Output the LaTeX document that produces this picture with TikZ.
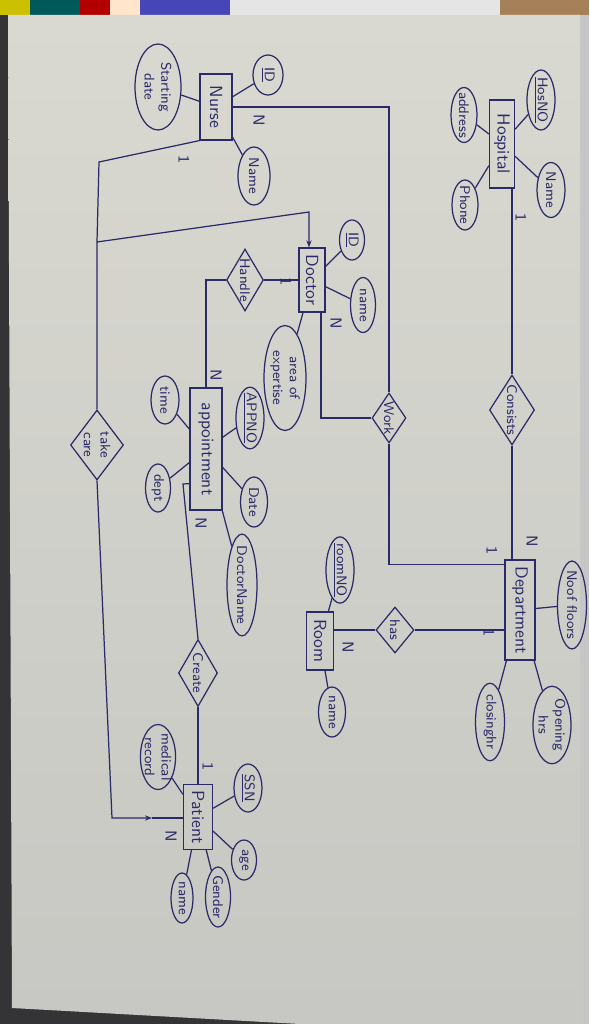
\documentclass[tikz,border=0pt]{standalone}
\usepackage{xcolor}
\usepackage{tikz}
\usetikzlibrary{shapes.geometric,arrows.meta}

\definecolor{ink}{RGB}{42,42,104}
\definecolor{papertop}{RGB}{217,217,209}
\definecolor{paperbot}{RGB}{199,199,195}
\definecolor{bgdark}{RGB}{52,52,55}

\tikzset{
  entity/.style={draw, rectangle, rotate=-90, inner sep=1pt, font=\sffamily},
  attr/.style={draw, ellipse, rotate=-90, inner xsep=-2pt, inner ysep=-0.5pt, align=center, font=\sffamily\footnotesize},
  rel/.style={draw, diamond, aspect=1.5, rotate=-90, inner xsep=-1pt, inner ysep=0pt, align=center, font=\sffamily\footnotesize},
  card/.style={rotate=-90, inner sep=0pt, font=\sffamily\small}
}

\begin{document}
\begin{tikzpicture}[x=0.02cm, y=-0.02cm, color=ink, line width=0.7pt]
\useasboundingbox (0,0) rectangle (589,1024);
% sheet of paper
\fill[bgdark] (0,0) rectangle (589,1024);
\fill[yellow!55!olive] (0,0) rectangle (30,15);
\fill[teal!70!black] (30,0) rectangle (80,15);
\fill[red!70!black] (80,0) rectangle (110,15);
\fill[orange!20] (110,0) rectangle (140,15);
\fill[blue!45!gray] (140,0) rectangle (230,15);
\fill[gray!20] (230,0) rectangle (500,15);
\fill[brown!60!gray] (500,0) rectangle (589,15);
\shade[top color=papertop, bottom color=paperbot] (8,15) -- (580,15) -- (580,1024) -- (300,1024) -- (12,1008) -- cycle;
\fill[gray!45] (580,15) rectangle (589,1024);

% entities
\node[entity, minimum width=1.76cm, minimum height=0.5cm] (hosp) at (502,144) {Hospital};
\node[entity, minimum width=2cm, minimum height=0.6cm] (dept) at (520,610) {Department};
\node[entity, minimum width=1.32cm, minimum height=0.64cm] (nurse) at (216,107) {Nurse};
\node[entity, minimum width=1.28cm, minimum height=0.52cm] (doctor) at (312,280) {Doctor};
\node[entity, minimum width=2.44cm, minimum height=0.64cm] (appt) at (206,449) {appointment};
\node[entity, minimum width=1.16cm, minimum height=0.54cm] (room) at (320,641) {Room};
\node[entity, minimum width=1.3cm, minimum height=0.58cm] (patient) at (198,817) {Patient};

% relationships
\node[rel, minimum width=1.4cm, minimum height=0.9cm] (cons) at (512,410) {Consists};
\node[rel, minimum width=1cm, minimum height=0.68cm] (work) at (389,418) {Work};
\node[rel, minimum width=1.24cm, minimum height=0.74cm] (handle) at (245,280) {Handle};
\node[rel, minimum width=1.34cm, minimum height=0.78cm] (cr) at (198,673) {Create};
\node[rel, minimum width=0.92cm, minimum height=0.76cm] (has) at (395,630) {has};
\node[rel, minimum width=1.4cm, minimum height=1.06cm] (tc) at (97,445) {take\\care};

% attributes
\node[attr, minimum width=1.2cm, minimum height=0.56cm] (hosno) at (541,100) {\underline{HosNO}};
\node[attr, minimum width=1.1cm, minimum height=0.52cm] (haddr) at (464,115) {address};
\node[attr, minimum width=1.1cm, minimum height=0.56cm] (hname) at (551,190) {Name};
\node[attr, minimum width=1cm, minimum height=0.52cm] (hphone) at (465,205) {Phone};
\node[attr, minimum width=0.8cm, minimum height=0.6cm] (nid) at (268,75) {\underline{ID}};
\node[attr, minimum width=1.72cm, minimum height=0.92cm] (nstart) at (158,87) {Starting\\date};
\node[attr, minimum width=1.16cm, minimum height=0.64cm] (nname) at (254,176) {Name};
\node[attr, minimum width=0.8cm, minimum height=0.5cm] (did) at (352,240) {\underline{ID}};
\node[attr, minimum width=1.1cm, minimum height=0.5cm] (dname) at (363,305) {name};
\node[attr, minimum width=2.1cm, minimum height=0.84cm] (darea) at (285,378) {area of\\expertise};
\node[attr, minimum width=0.96cm, minimum height=0.56cm] (ttime) at (165,400) {time};
\node[attr, minimum width=1.1cm, minimum height=0.56cm] (apno) at (250,418) {\underline{APPNO}};
\node[attr, minimum width=0.96cm, minimum height=0.5cm] (adept) at (158,488) {dept};
\node[attr, minimum width=1cm, minimum height=0.54cm] (adate) at (254,502) {Date};
\node[attr, minimum width=1.8cm, minimum height=0.6cm] (adoc) at (242,585) {DoctorName};
\node[attr, minimum width=1.2cm, minimum height=0.56cm] (rno) at (340,570) {\underline{roomNO}};
\node[attr, minimum width=1cm, minimum height=0.54cm] (rname) at (332,712) {name};
\node[attr, minimum width=1.7cm, minimum height=0.58cm] (dfloors) at (572,605) {Noof floors};
\node[attr, minimum width=1.55cm, minimum height=0.76cm] (dopen) at (552,725) {Opening\\hrs};
\node[attr, minimum width=1.55cm, minimum height=0.58cm] (dclose) at (490,722) {closinghr};
\node[attr, minimum width=1.3cm, minimum height=0.6cm] (pmed) at (158,757) {medical\\record};
\node[attr, minimum width=0.96cm, minimum height=0.56cm] (pssn) at (248,788) {\underline{SSN}};
\node[attr, minimum width=0.8cm, minimum height=0.5cm] (page) at (244,860) {age};
\node[attr, minimum width=1.2cm, minimum height=0.5cm] (pgender) at (218,897) {Gender};
\node[attr, minimum width=1cm, minimum height=0.44cm] (pname) at (182,898) {name};

% bend points
\coordinate (nt) at (99,162);
\coordinate (jn) at (97,242);
\coordinate (dt) at (309,212);
\coordinate (ac) at (183,484);
\coordinate (tp) at (112,818);
\coordinate (pm) at (152,818);

% relationship lines
\draw (cons |- hosp.east) -- (cons.west);
\draw (cons.east) -- (cons.east |- dept.west);
\draw (nurse.north) -| (work.west);
\draw (work.east) |- ([yshift=-1mm]dept.south west);
\draw (work.south) -| ([xshift=1.8mm]doctor.east);
\draw (has.north) -- (dept.south |- has.north);
\draw (has.south) -- (room.north |- has.south);
\draw (nurse.south east) -- (nt) -- (jn) -- (tc.west);
\draw[-{Stealth[length=4pt]}] (jn) -- (dt) -- (dt |- doctor.west);
\draw (handle.north) -- (doctor.south |- handle.north);
\draw (handle.south) -| (appt.west);
\draw ([yshift=5.4mm]appt.south east) -- (ac) -- (cr.west);
\draw (cr.east) -- (cr.east |- patient.west);
\draw[-{Stealth[length=4pt]}] (tc.east) -- (tp) -- (pm);
\draw (pm) -- (pm -| patient.south);

% attribute lines
\draw (hosp) -- (hosno);
\draw (hosp) -- (haddr);
\draw (hosp) -- (hname);
\draw (hosp) -- (hphone);
\draw (nurse) -- (nid);
\draw (nurse) -- (nstart);
\draw (nurse) -- (nname);
\draw (doctor) -- (did);
\draw (doctor) -- (dname);
\draw (doctor) -- (darea);
\draw (appt) -- (ttime);
\draw (appt) -- (apno);
\draw (appt) -- (adept);
\draw (appt) -- (adate);
\draw (appt) -- (adoc);
\draw (room) -- (rno);
\draw (room) -- (rname);
\draw (dept) -- (dfloors);
\draw (dept) -- (dopen);
\draw (dept) -- (dclose);
\draw (patient) -- (pmed);
\draw (patient) -- (pssn);
\draw (patient) -- (page);
\draw (patient) -- (pgender);
\draw (patient) -- (pname);

% cardinalities
\node[card] (c1) at (521,218) {1};
\node[card] (c2) at (532,541) {N};
\node[card] (c3) at (492,551) {1};
\node[card] (c4) at (489,633) {1};
\node[card] (c5) at (348,647) {N};
\node[card] (c6) at (259,120) {N};
\node[card] (c7) at (336,323) {N};
\node[card] (c8) at (184,160) {1};
\node[card] (c9) at (286,282) {1};
\node[card] (c10) at (216,375) {N};
\node[card] (c11) at (201,523) {N};
\node[card] (c12) at (208,767) {1};
\node[card] (c13) at (171,836) {N};
\end{tikzpicture}
\end{document}
